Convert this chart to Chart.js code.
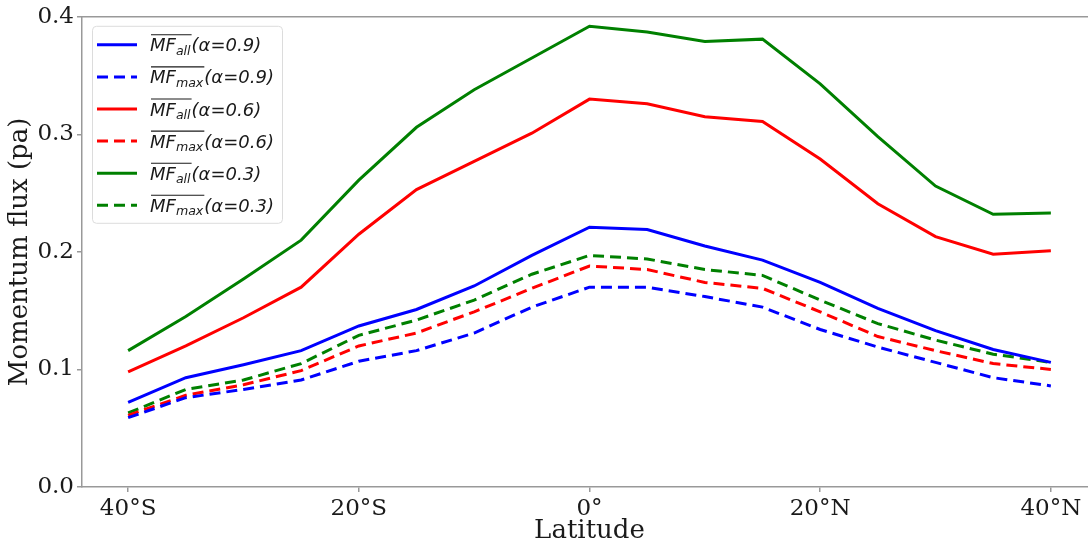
<!DOCTYPE html>
<html><head><meta charset="utf-8">
<script src="https://cdn.jsdelivr.net/npm/chart.js@4"></script>
<style>html,body{margin:0;padding:0;overflow:hidden;background:#fff}
#wrap{width:1100px;height:547px}</style></head>
<body><div id="wrap"><canvas id="c" width="1100" height="547"></canvas></div>
<script>
const latitudes = [-40,-35,-30,-25,-20,-15,-10,-5,0,5,10,15,20,25,30,35,40];
const xTickValues = [-40,-20,0,20,40];
const xTickLabels = ['40°S','20°S','0°','20°N','40°N'];
const yTickValues = [0,0.1,0.2,0.3,0.4];

const mfAllA09 = [0.072,0.093,0.104,0.116,0.137,0.151,0.171,0.197,0.221,0.219,0.205,0.193,0.174,0.152,0.133,0.117,0.106];
const mfMaxA09 = [0.059,0.076,0.083,0.091,0.107,0.116,0.131,0.153,0.170,0.170,0.162,0.153,0.134,0.119,0.106,0.093,0.086];
const mfAllA06 = [0.098,0.120,0.144,0.170,0.215,0.253,0.277,0.301,0.330,0.326,0.315,0.311,0.279,0.241,0.213,0.198,0.201];
const mfMaxA06 = [0.061,0.078,0.087,0.099,0.120,0.131,0.149,0.169,0.188,0.185,0.174,0.169,0.149,0.128,0.116,0.105,0.100];
const mfAllA03 = [0.116,0.145,0.177,0.210,0.261,0.306,0.338,0.365,0.392,0.387,0.379,0.381,0.343,0.298,0.256,0.232,0.233];
const mfMaxA03 = [0.063,0.083,0.091,0.105,0.129,0.142,0.159,0.181,0.197,0.194,0.185,0.180,0.159,0.139,0.125,0.113,0.106];

const seriesBase = ['MF','MF','MF','MF','MF','MF'];
const seriesSub = ['all','max','all','max','all','max'];
const seriesAlpha = ['(α=0.9)','(α=0.9)','(α=0.6)','(α=0.6)','(α=0.3)','(α=0.3)'];
const seriesColors = ['#0000ff','#0000ff','#ff0000','#ff0000','#008000','#008000'];
const seriesDashed = [false,true,false,true,false,true];
const seriesValues = [mfAllA09,mfMaxA09,mfAllA06,mfMaxA06,mfAllA03,mfMaxA03];

const DASH = [11,6];
const datasets = seriesValues.map((vals,i)=>({
  label: seriesBase[i]+'_'+seriesSub[i]+seriesAlpha[i],
  data: latitudes.map((x,j)=>({x:x,y:vals[j]})),
  borderColor: seriesColors[i],
  backgroundColor: seriesColors[i],
  borderWidth: 3,
  borderDash: seriesDashed[i]?DASH:[],
  pointRadius: 0,
  tension: 0,
  fill: false
}));

const axisColor = '#999';
const textColor = '#1a1a1a';
const serif = "'DejaVu Serif', serif";

const extras = {
  id:'extras',
  afterDatasetsDraw(chart){
    const ctx = chart.ctx, ca = chart.chartArea;
    ctx.save();
    // top spine
    ctx.strokeStyle = axisColor; ctx.lineWidth = 1.5; ctx.setLineDash([]);
    ctx.beginPath(); ctx.moveTo(ca.left, ca.top); ctx.lineTo(ca.right, ca.top); ctx.stroke();
    // legend box
    const bx = ca.left+10, by = ca.top+9, bw = 190, bh = 197;
    ctx.fillStyle = 'rgba(255,255,255,0.85)';
    ctx.strokeStyle = '#dcdcdc'; ctx.lineWidth = 1;
    ctx.beginPath(); ctx.roundRect(bx+0.5, by+0.5, bw, bh, 4); ctx.fill(); ctx.stroke();
    chart.data.datasets.forEach((ds,i)=>{
      const cy = ca.top + 28 + i*32.1;
      ctx.strokeStyle = ds.borderColor; ctx.lineWidth = 3;
      ctx.setLineDash(ds.borderDash||[]);
      ctx.beginPath(); ctx.moveTo(bx+5, cy); ctx.lineTo(bx+45, cy); ctx.stroke();
      ctx.setLineDash([]);
      const tx = bx+58, base = cy+6.5;
      ctx.fillStyle = textColor; ctx.textBaseline = 'alphabetic'; ctx.textAlign = 'left';
      ctx.font = "italic 18px 'DejaVu Sans'";
      ctx.fillText(seriesBase[i], tx, base);
      const w1 = ctx.measureText(seriesBase[i]).width;
      ctx.font = "italic 12.6px 'DejaVu Sans'";
      ctx.fillText(seriesSub[i], tx+w1, base+3.5);
      const w2 = ctx.measureText(seriesSub[i]).width;
      ctx.strokeStyle = textColor; ctx.lineWidth = 1.1;
      ctx.beginPath(); ctx.moveTo(tx+1, base-16.5); ctx.lineTo(tx+w1+w2+1, base-16.5); ctx.stroke();
      ctx.font = "italic 18px 'DejaVu Sans'";
      ctx.fillText(seriesAlpha[i], tx+w1+w2+1, base);
    });
    ctx.restore();
  }
};

new Chart(document.getElementById('c'), {
  type:'line',
  data:{datasets:datasets},
  options:{
    responsive:false, animation:false,
    layout:{padding:{top:15,right:3,left:0,bottom:0}},
    plugins:{legend:{display:false}, tooltip:{enabled:false}},
    scales:{
      x:{
        type:'linear', min:-44, max:44,
        afterBuildTicks(s){ s.ticks = xTickValues.map(v=>({value:v})); },
        afterFit(s){ s.height = 60; },
        ticks:{
          callback:(v)=>{ const k = xTickValues.indexOf(v); return k>=0?xTickLabels[k]:''; },
          font:{family:serif,size:23}, color:textColor, padding:3, maxRotation:0, autoSkip:false
        },
        grid:{drawOnChartArea:false, drawTicks:true, tickLength:5, color:axisColor, lineWidth:1.5},
        border:{color:axisColor, width:1.5},
        title:{display:true, text:'Latitude', font:{family:serif,size:26}, color:textColor, padding:{top:0,bottom:0}}
      },
      y:{
        type:'linear', min:0, max:0.4,
        afterBuildTicks(s){ s.ticks = yTickValues.map(v=>({value:v})); },
        afterFit(s){ s.width = 82; },
        ticks:{
          callback:(v)=>Number(v).toFixed(1),
          font:{family:serif,size:23}, color:textColor, padding:3
        },
        grid:{drawOnChartArea:false, drawTicks:true, tickLength:5, color:axisColor, lineWidth:1.5},
        border:{color:axisColor, width:1.5},
        title:{display:true, text:'Momentum flux (pa)', font:{family:serif,size:26}, color:textColor, padding:{top:5,bottom:0}}
      }
    }
  },
  plugins:[extras]
});
</script></body></html>
